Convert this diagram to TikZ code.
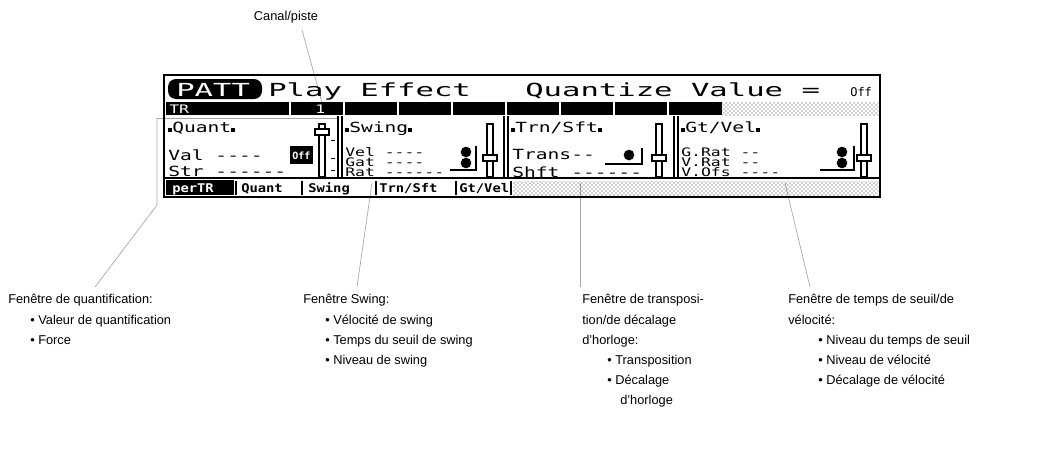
\documentclass[tikz,border=0pt]{standalone}
\usepackage{fontspec}
\setmainfont{Liberation Sans}
\newfontfamily\lcdf[FakeStretch=1.4]{DejaVu Sans Mono}
\newfontfamily\lcdn[FakeStretch=1.4]{DejaVu Sans Mono}
\newfontfamily\lcdt[FakeStretch=1.15]{DejaVu Sans Mono}
\newfontfamily\lcdb[FakeStretch=1.7]{DejaVu Sans Mono}
\newfontfamily\lcdp{DejaVu Sans Mono}
\usetikzlibrary{patterns}
\begin{document}
\begin{tikzpicture}[x=0.75pt,y=-0.75pt,
  ann/.style={anchor=base west,inner sep=0,font=\fontsize{9.6}{11}\selectfont},
  lcd/.style={anchor=base west,inner sep=0,font=\lcdf\fontsize{10.5}{12}\selectfont},
  sm/.style={anchor=base west,inner sep=0,font=\lcdn\fontsize{8.8}{10}\selectfont},
  big/.style={anchor=base west,inner sep=0,font=\lcdb\fontsize{13.5}{14}\selectfont},
  tab/.style={anchor=base west,inner sep=0,font=\lcdt\bfseries\fontsize{9}{10}\selectfont},
  lead/.style={gray!70,line width=0.5pt},
  knob/.style={circle,fill=black,inner sep=0,minimum size=8pt},
  hatch/.style={pattern=crosshatch dots,pattern color=black!80}]
\useasboundingbox (0,0) rectangle (1046,457);
% leaders
\node[ann,anchor=base] (canal) at (286,20) {Canal/piste};
\coordinate (c1) at (324,110);
\draw[lead] (302,30) -- (c1);
\draw[lead] (157,118) -- (157,205) -- (95,287);
\draw[lead] (157,118) -- (337,118);
\draw[lead] (372,183) -- (357,287);
\draw[lead] (580,183) -- (580,287);
\draw[lead] (785,183) -- (810,287);
% LCD frame
\draw[line width=1.6pt] (164,75) rectangle (880,197);
\draw[line width=1pt] (164,178) -- (880,178);
% title
\fill (168,79) [rounded corners=6pt] rectangle (262,99);
\node[big,text=white] (patt) at (176,96) {PATT};
\node[big] (pe) at (268,96) {Play Effect};
\node[big] (qv) at (525,96) {Quantize Value =};
\node[anchor=base west,inner sep=0,font=\lcdp\fontsize{9}{10}\selectfont] (off1) at (850,96) {Off};
% TR bar
\fill (166,102) rectangle (722,115);
\foreach \x in {290,344,398,452,506,560,614,668} \draw[white,line width=1pt] (\x,102) -- (\x,115);
\fill[hatch] (722,102) rectangle (878,115);
\node[sm,text=white] (tr) at (169,113) {TR};
\node[sm,text=white] (one) at (315,113) {1};
% panel dividers
\foreach \x in {338,342,504,508,674,678} \draw[line width=0.8pt] (\x,116) -- (\x,178);
% headers
\node[lcd] (hq) at (168,132) {\rule{3pt}{3pt}Quant\rule{3pt}{3pt}};
\node[lcd] (hs) at (345,132) {\rule{3pt}{3pt}Swing\rule{3pt}{3pt}};
\node[lcd] (ht) at (511,132) {\rule{3pt}{3pt}Trn/Sft\rule{3pt}{3pt}};
\node[lcd] (hg) at (681,132) {\rule{3pt}{3pt}Gt/Vel\rule{3pt}{3pt}};
% sliders
\foreach \x/\k in {322/132,490/158,659/158,864/158}{
  \draw[line width=0.8pt] (\x-3,124) rectangle (\x+3,177);
  \draw[fill=white,line width=1pt] (\x-7,\k-3) rectangle (\x+7,\k+3);
}
\foreach \y in {140,158,170} \draw (331,\y) -- (335,\y);
% Quant
\node[lcd] (val) at (168,160) {Val ----};
\fill (290,146) rectangle (313,164);
\node[anchor=base west,inner sep=0,text=white,font=\lcdp\bfseries\fontsize{7.5}{9}\selectfont] (voff) at (292,159) {Off};
\node[lcd] (str) at (168,176) {Str ------};
% Swing
\node[sm] (vel) at (345,156) {Vel ----};
\node[sm] (gat) at (345,166) {Gat ----};
\node[sm] (rat) at (345,176) {Rat ------};
\node[knob] (k1) at (466,152) {};
\node[knob] (k2) at (466,163) {};
\draw[line width=0.8pt] (476,146) -- (476,170) -- (450,170);
% Trn/Sft
\node[lcd] (trans) at (512,159) {Trans--};
\node[lcd] (shft) at (512,177) {Shft ------};
\node[knob] (k3) at (629,155) {};
\draw[line width=0.8pt] (642,148) -- (642,164) -- (605,164);
% Gt/Vel
\node[sm] (grat) at (681,156) {G.Rat --};
\node[sm] (vrat) at (681,166) {V.Rat --};
\node[sm] (vofs) at (681,176) {V.Ofs ----};
\node[knob] (k4) at (842,152) {};
\node[knob] (k5) at (842,163) {};
\draw[line width=0.8pt] (854,146) -- (854,170) -- (820,170);
% tabs
\fill (166,180) rectangle (234,195);
\node[tab,text=white] (t1) at (172,192) {perTR};
\node[tab] (t2) at (241,192) {Quant};
\node[tab] (t3) at (308,192) {Swing};
\node[tab] (t4) at (379,192) {Trn/Sft};
\node[tab] (t5) at (459,192) {Gt/Vel};
\foreach \x in {236,302,376,456,511} \draw[line width=0.8pt] (\x,181) -- (\x,195);
\fill[hatch] (513,181) rectangle (878,195);
% annotations
\node[ann] (a1) at (8,303) {Fenêtre de quantification:};
\node[ann] (a2) at (30,324) {• Valeur de quantification};
\node[ann] (a3) at (30,344) {• Force};
\node[ann] (b1) at (303,303) {Fenêtre Swing:};
\node[ann] (b2) at (325,324) {• Vélocité de swing};
\node[ann] (b3) at (325,344) {• Temps du seuil de swing};
\node[ann] (b4) at (325,364) {• Niveau de swing};
\node[ann] (c1t) at (582,303) {Fenêtre de transposi-};
\node[ann] (c2) at (582,324) {tion/de décalage};
\node[ann] (c3) at (582,344) {d'horloge:};
\node[ann] (c4) at (607,364) {• Transposition};
\node[ann] (c5) at (607,384) {• Décalage};
\node[ann] (c6) at (620,404) {d'horloge};
\node[ann] (d1) at (788,303) {Fenêtre de temps de seuil/de};
\node[ann] (d2) at (788,324) {vélocité:};
\node[ann] (d3) at (818,344) {• Niveau du temps de seuil};
\node[ann] (d4) at (818,364) {• Niveau de vélocité};
\node[ann] (d5) at (818,384) {• Décalage de vélocité};
\end{tikzpicture}
\end{document}
